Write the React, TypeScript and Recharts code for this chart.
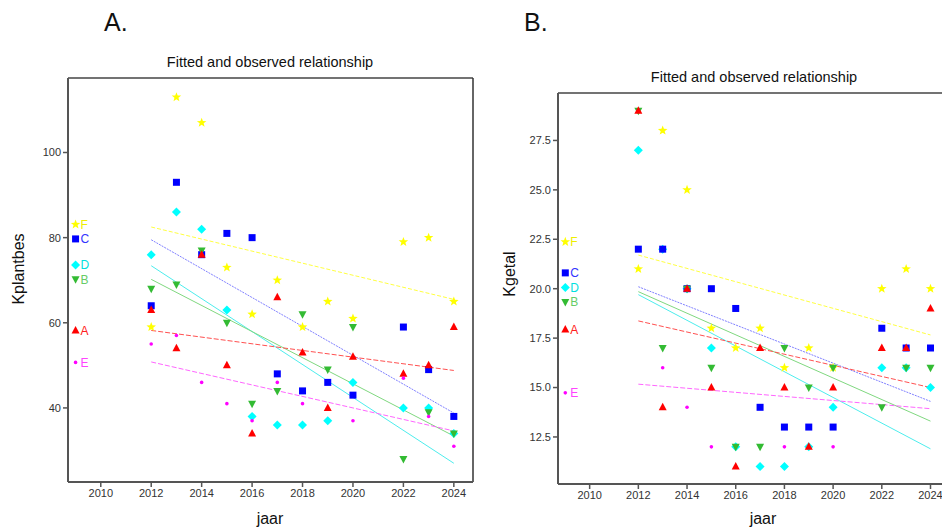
import React from 'react';
import { ComposedChart, Scatter, Line, XAxis, YAxis, ReferenceLine } from 'recharts';

// observation years (no 2021)
const years = [2012, 2013, 2014, 2015, 2016, 2017, 2018, 2019, 2020, 2022, 2023, 2024];
const fitYears = [2012, 2024];
const labelYear = 2009;
const xDomain: [number, number] = [2008.7, 2024.76];

// A. Kplantbes
const plantA = [63, 54, 76, 50, 34, 66, 53, 40, 52, 48, 50, 59];
const plantB = [68, 69, 77, 60, 41, 44, 62, 49, 59, 28, 39, 34];
const plantC = [64, 93, 76, 81, 80, 48, 44, 46, 43, 59, 49, 38];
const plantD = [76, 86, 82, 63, 38, 36, 36, 37, 46, 40, 40, 34];
const plantE = [55, 57, 46, 41, 37, 46, 41, null, 37, 47, 38, 31];
const plantF = [59, 113, 107, 73, 62, 70, 59, 65, 61, 79, 80, 65];
const plantFit = { A: [58.2, 48.8], B: [70.2, 33.4], C: [79.5, 38.8], D: [73.4, 27], E: [50.8, 34.6], F: [82.5, 65.5] };
const plantLabels = { A: 58.2, B: 70.2, C: 79.7, D: 73.6, E: 50.7, F: 83.1 };
const plantTicks = [40, 60, 80, 100];

// B. Kgetal
const getalA = [29, 14, 20, 15, 11, 17, 15, 12, 15, 17, 17, 19];
const getalB = [29, 17, 20, 16, 12, 12, 17, 15, 16, 14, 16, 16];
const getalC = [22, 22, 20, 20, 19, 14, 13, 13, 13, 18, 17, 17];
const getalD = [27, 22, 20, 17, 12, 11, 11, 12, 14, 16, 16, 15];
const getalE = [null, 16, 14, 12, null, null, 12, null, 12, null, null, null];
const getalF = [21, 28, 25, 18, 17, 18, 16, 17, 16, 20, 21, 20];
const getalFit = { A: [18.37, 15.0], B: [19.85, 13.3], C: [20.1, 14.3], D: [19.7, 11.9], E: [15.17, 13.93], F: [21.7, 17.66] };
const getalLabels = { A: 17.93, B: 19.33, C: 20.8, D: 20.06, E: 14.73, F: 22.37 };
const getalTicks = [12.5, 15, 17.5, 20, 22.5, 25, 27.5];

const xTicks = [2010, 2012, 2014, 2016, 2018, 2020, 2022, 2024];

const style = {
  A: { kind: 'up', color: '#ff0000', text: '#ff2020', line: '#ff5050', dash: '5 2' },
  B: { kind: 'down', color: '#33bb33', text: '#66cc66', line: '#80d880', dash: '' },
  C: { kind: 'square', color: '#0000ff', text: '#3333ff', line: '#8080ff', dash: '2 1' },
  D: { kind: 'diamond', color: '#00ffff', text: '#00e0e0', line: '#4deded', dash: '' },
  E: { kind: 'dot', color: '#ff00ff', text: '#ff44ff', line: '#ff66ff', dash: '5 2' },
  F: { kind: 'star', color: '#ffff00', text: '#eeee00', line: '#ffff40', dash: '4 2' },
};

const drawOrder = ['F', 'D', 'C', 'B', 'A', 'E'];

const starPath = (cx: number, cy: number, r: number) => {
  const pts: string[] = [];
  for (let i = 0; i < 10; i++) {
    const rad = i % 2 === 0 ? r : r * 0.42;
    const a = -Math.PI / 2 + (i * Math.PI) / 5;
    pts.push(`${cx + rad * Math.cos(a)},${cy + rad * Math.sin(a)}`);
  }
  return 'M' + pts.join('L') + 'Z';
};

const Marker = ({ kind, cx, cy, color }: any) => {
  if (cx == null || cy == null) return null;
  switch (kind) {
    case 'up':
      return <path d={`M${cx},${cy - 4.5}L${cx + 4},${cy + 3}L${cx - 4},${cy + 3}Z`} fill={color} />;
    case 'down':
      return <path d={`M${cx - 4},${cy - 3}L${cx + 4},${cy - 3}L${cx},${cy + 4.5}Z`} fill={color} />;
    case 'square':
      return <rect x={cx - 3.5} y={cy - 3.5} width={7} height={7} fill={color} />;
    case 'diamond':
      return <path d={`M${cx},${cy - 4.5}L${cx + 4.5},${cy}L${cx},${cy + 4.5}L${cx - 4.5},${cy}Z`} fill={color} />;
    case 'dot':
      return <circle cx={cx} cy={cy} r={1.8} fill={color} />;
    default:
      return <path d={starPath(cx, cy, 5)} fill={color} />;
  }
};

const toPoints = (vals: (number | null)[]) =>
  years.map((y, i) => ({ year: y, v: vals[i] })).filter((p) => p.v != null);

interface PanelProps {
  series: Record<string, (number | null)[]>;
  fits: Record<string, number[]>;
  labels: Record<string, number>;
  yDomain: [number, number];
  yTicks: number[];
  fmt: (v: number) => string;
  width: number;
  top: number;
  bottom: number;
  right: number;
}

const Panel = ({ series, fits, labels, yDomain, yTicks, fmt, width, top, bottom, right }: PanelProps) => (
  <ComposedChart width={width} height={531} margin={{ top, right, bottom: 531 - bottom - 30, left: 0 }}>
    <XAxis
      xAxisId="b"
      type="number"
      dataKey="year"
      domain={xDomain}
      allowDataOverflow
      ticks={xTicks}
      height={30}
      axisLine={{ stroke: '#555', strokeWidth: 2 }}
      tickLine={{ stroke: '#555', strokeWidth: 1.5 }}
      tickSize={5}
      tick={{ fill: '#333', fontSize: 11, fontFamily: 'Liberation Sans, Arial' }}
    />
    <YAxis
      yAxisId="l"
      type="number"
      dataKey="v"
      domain={yDomain}
      allowDataOverflow
      ticks={yTicks}
      width={68}
      tickFormatter={fmt}
      axisLine={{ stroke: '#555', strokeWidth: 2 }}
      tickLine={{ stroke: '#555', strokeWidth: 1.5 }}
      tickSize={5}
      tick={{ fill: '#333', fontSize: 11, fontFamily: 'Liberation Sans, Arial' }}
    />
    <ReferenceLine xAxisId="b" yAxisId="l" y={yDomain[1]} stroke="#444" strokeWidth={1.5} ifOverflow="visible" />
    <ReferenceLine xAxisId="b" yAxisId="l" x={xDomain[1]} stroke="#333" strokeWidth={1.5} ifOverflow="visible" />
    {drawOrder.map((k) => (
      <Line
        key={'fit' + k}
        xAxisId="b"
        yAxisId="l"
        data={fitYears.map((y, i) => ({ year: y, v: fits[k][i] }))}
        dataKey="v"
        type="linear"
        stroke={style[k].line}
        strokeWidth={1}
        strokeDasharray={style[k].dash}
        dot={false}
        isAnimationActive={false}
      />
    ))}
    {drawOrder.map((k) => (
      <Scatter
        key={'pts' + k}
        xAxisId="b"
        yAxisId="l"
        data={toPoints(series[k])}
        dataKey="v"
        isAnimationActive={false}
        shape={(p: any) => <Marker kind={style[k].kind} cx={p.cx} cy={p.cy} color={style[k].color} />}
      />
    ))}
    {drawOrder.map((k) => (
      <Scatter
        key={'lab' + k}
        xAxisId="b"
        yAxisId="l"
        data={[{ year: labelYear, v: labels[k] }]}
        dataKey="v"
        isAnimationActive={false}
        shape={(p: any) => (
          <g>
            <Marker kind={style[k].kind} cx={p.cx} cy={p.cy} color={style[k].color} />
            <text x={p.cx + 5} y={p.cy + 4.5} fontSize={12} fontFamily="Liberation Sans, Arial" fill={style[k].text}>
              {k}
            </text>
          </g>
        )}
      />
    ))}
  </ComposedChart>
);

const abs = (left: number, top: number, extra: React.CSSProperties = {}): React.CSSProperties => ({
  position: 'absolute',
  left,
  top,
  fontFamily: 'Liberation Sans, Arial, sans-serif',
  color: '#111',
  whiteSpace: 'nowrap',
  ...extra,
});

export default function App() {
  return (
    <div style={{ position: 'absolute', left: 0, top: 0, width: 942, height: 531, overflow: 'hidden', background: '#fff' }}>
      <div style={abs(0, 0)}>
        <Panel
          series={{ A: plantA, B: plantB, C: plantC, D: plantD, E: plantE, F: plantF }}
          fits={plantFit}
          labels={plantLabels}
          yDomain={[22.6, 117.5]}
          yTicks={plantTicks}
          fmt={(v) => String(v)}
          width={480}
          top={78}
          bottom={482}
          right={7}
        />
      </div>
      <div style={abs(490, 0)}>
        <Panel
          series={{ A: getalA, B: getalB, C: getalC, D: getalD, E: getalE, F: getalF }}
          fits={getalFit}
          labels={getalLabels}
          yDomain={[10.12, 29.9]}
          yTicks={getalTicks}
          fmt={(v) => v.toFixed(1)}
          width={470}
          top={93}
          bottom={484}
          right={11}
        />
      </div>
      <div style={abs(104, 8, { fontSize: 25 })}>A.</div>
      <div style={abs(524, 8, { fontSize: 25 })}>B.</div>
      <div style={abs(70, 54, { width: 400, textAlign: 'center', fontSize: 14.5 })}>Fitted and observed relationship</div>
      <div style={abs(554, 69, { width: 400, textAlign: 'center', fontSize: 14.5 })}>Fitted and observed relationship</div>
      <div style={abs(-31, 260, { width: 100, textAlign: 'center', fontSize: 16, transform: 'rotate(-90deg)' })}>Kplantbes</div>
      <div style={abs(460, 265, { width: 100, textAlign: 'center', fontSize: 16, transform: 'rotate(-90deg)' })}>Kgetal</div>
      <div style={abs(220, 510, { width: 100, textAlign: 'center', fontSize: 16 })}>jaar</div>
      <div style={abs(713, 510, { width: 100, textAlign: 'center', fontSize: 16 })}>jaar</div>
    </div>
  );
}
